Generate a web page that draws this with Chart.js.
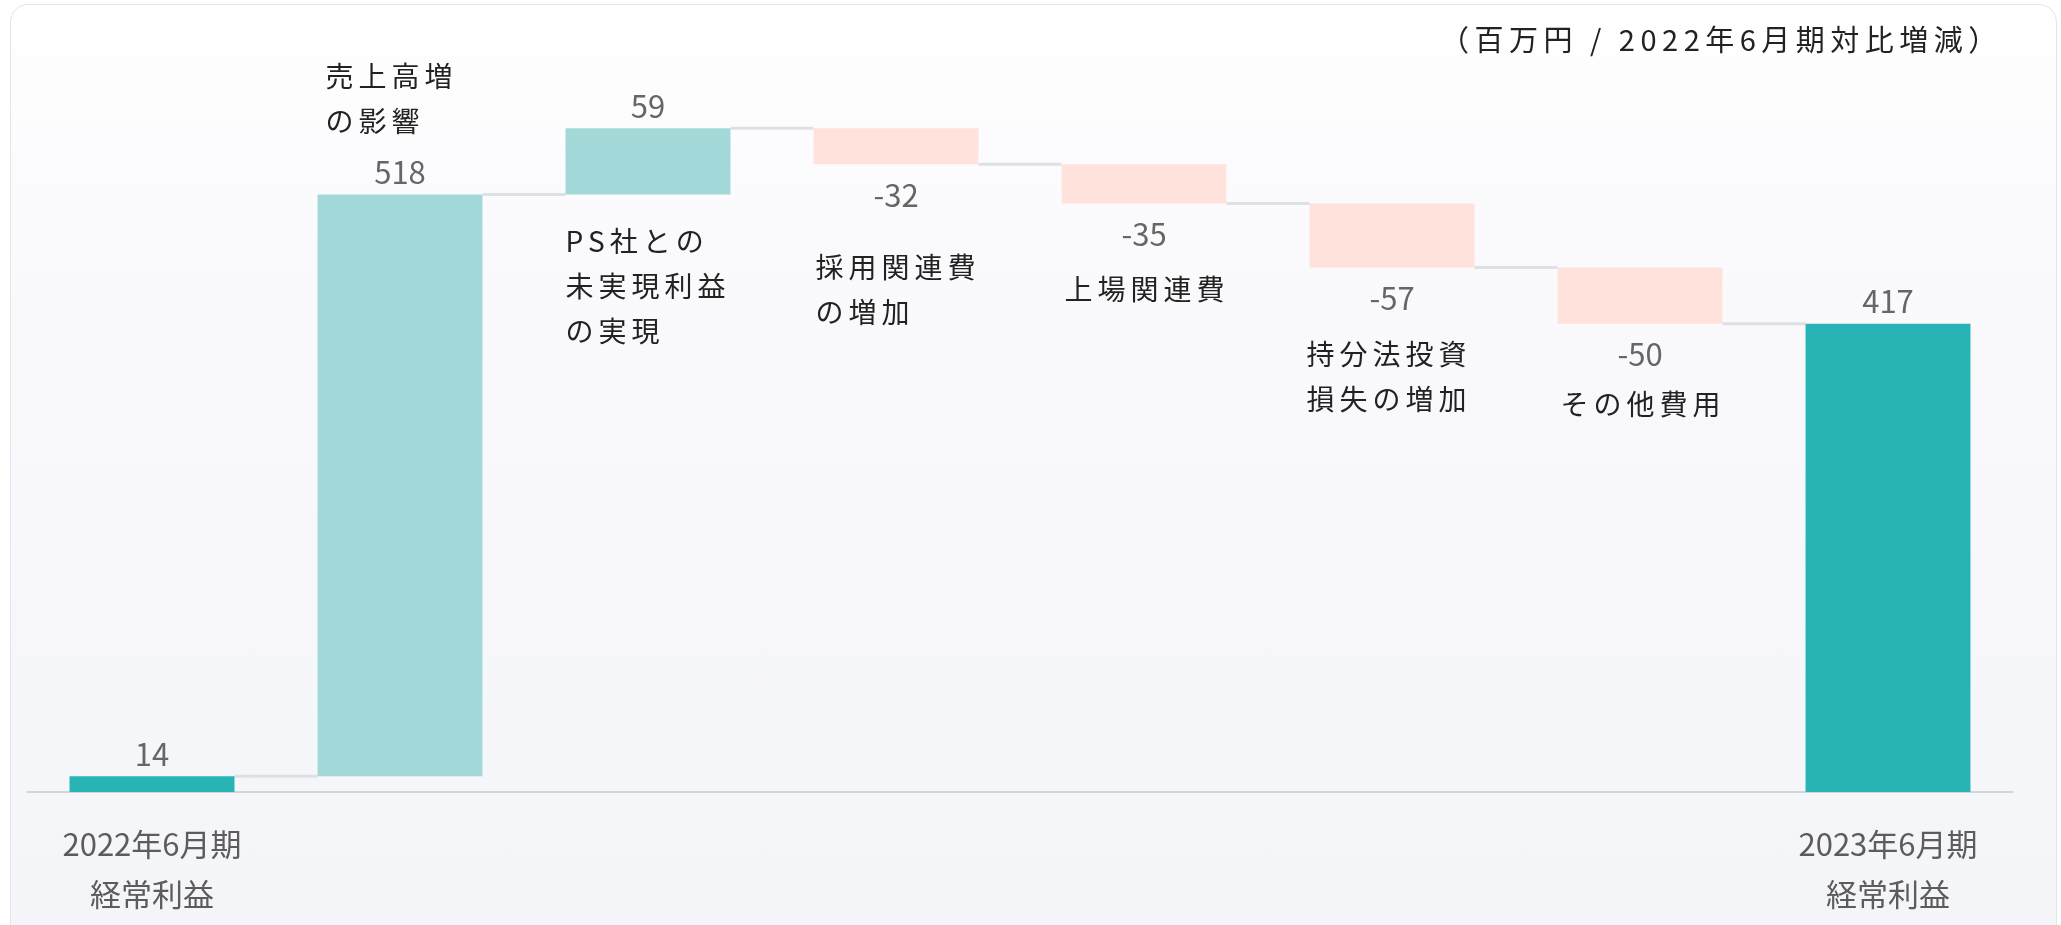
<!DOCTYPE html>
<html lang="ja">
<head>
<meta charset="utf-8">
<title>経常利益 増減</title>
<script src="https://cdn.jsdelivr.net/npm/chart.js@4.4.1/dist/chart.umd.min.js"></script>
<style>
  html, body { margin: 0; padding: 0; background: #fff; }
  body { width: 2061px; height: 925px; overflow: hidden; position: relative; }
  .card {
    position: absolute; left: 10px; top: 4px; width: 2047px; height: 940px;
    box-sizing: border-box;
    border: 1.5px solid #e3e5e9; border-radius: 18px;
    background: linear-gradient(to bottom, #ffffff 0%, #fafafd 25%, #f4f5f9 100%);
  }
  #chart { position: absolute; left: 0; top: 0; }
</style>
</head>
<body>
<div class="card"></div>
<canvas id="chart" width="2061" height="925"></canvas>
<script>
// ==========================================
// Data
// ==========================================
const categories = ['2022年6月期経常利益', '売上高増の影響', 'PS社との未実現利益の実現', '採用関連費の増加',
  '上場関連費', '持分法投資損失の増加', 'その他費用', '2023年6月期経常利益'];
const changes = [14, 518, 59, -32, -35, -57, -50, 417];
const barKinds = ['total', 'up', 'up', 'down', 'down', 'down', 'down', 'total'];
const axisLabels = [['2022年6月期', '経常利益'], '', '', '', '', '', '', ['2023年6月期', '経常利益']];
const innerLabels = [[], ['売上高増', 'の影響'], ['PS社との', '未実現利益', 'の実現'], ['採用関連費', 'の増加'],
  ['上場関連費'], ['持分法投資', '損失の増加'], ['その他費用'], []];
const unitNote = '（百万円 / 2022年6月期対比増減）';

// ==========================================
// Styles
// ==========================================
const FONT = "'Noto Sans CJK JP', 'Noto Sans', sans-serif";
const kindColors = { total: '#28b4b4', up: '#a3d8d8', down: '#ffe2dc' };
// where each in-chart label sits relative to its bar (px)
const innerLabelPos = [null, { side: 'top', dy: -118, dx: 8 }, { side: 'bottom', dy: 47, dx: 0 },
  { side: 'bottom', dy: 103, dx: 2 }, { side: 'bottom', dy: 86, dx: 3 }, { side: 'bottom', dy: 87, dx: -3 },
  { side: 'bottom', dy: 81, dx: 3 }, null];

// floating ranges for the waterfall
let running = 0;
const ranges = changes.map((v, i) => {
  if (barKinds[i] === 'total') { running = v; return [0, v]; }
  const r = [running, running + v];
  running += v;
  return r;
});

// ==========================================
// Decorations plugin
// ==========================================
const waterfallDecor = {
  id: 'waterfallDecor',
  beforeDatasetsDraw(chart) {
    const { ctx } = chart;
    const yScale = chart.scales.y;
    const bars = chart.getDatasetMeta(0).data;
    ctx.save();
    ctx.strokeStyle = '#dfe0e3';
    ctx.lineWidth = 3;
    for (let i = 0; i < bars.length - 1; i++) {
      const y = yScale.getPixelForValue(ranges[i][1]);
      ctx.beginPath();
      ctx.moveTo(bars[i].x + bars[i].width / 2, y);
      ctx.lineTo(bars[i + 1].x - bars[i + 1].width / 2, y);
      ctx.stroke();
    }
    ctx.restore();
  },
  afterDatasetsDraw(chart) {
    const { ctx } = chart;
    const bars = chart.getDatasetMeta(0).data;
    ctx.save();
    ctx.textBaseline = 'middle';

    // value labels
    ctx.font = `31px ${FONT}`;
    ctx.fillStyle = '#666';
    ctx.textAlign = 'center';
    bars.forEach((b, i) => {
      const top = Math.min(b.y, b.base);
      const bottom = Math.max(b.y, b.base);
      const y = changes[i] < 0 ? bottom + 31 : top - 22;
      ctx.fillText(String(changes[i]), b.x, y);
    });

    // category labels inside the plot
    ctx.font = `28px ${FONT}`;
    ctx.fillStyle = '#222';
    ctx.textAlign = 'left';
    ctx.letterSpacing = '5px';
    bars.forEach((b, i) => {
      const pos = innerLabelPos[i];
      if (!pos) return;
      const top = Math.min(b.y, b.base);
      const bottom = Math.max(b.y, b.base);
      const x = b.x - b.width / 2 + pos.dx;
      const y0 = (pos.side === 'top' ? top : bottom) + pos.dy;
      innerLabels[i].forEach((line, k) => ctx.fillText(line, x, y0 + k * 45));
    });

    // unit note
    ctx.font = `29px ${FONT}`;
    ctx.letterSpacing = '5.5px';
    ctx.fillText(unitNote, 1440, 40);
    ctx.restore();
  }
};

// ==========================================
// Chart
// ==========================================
new Chart(document.getElementById('chart'), {
  type: 'bar',
  data: {
    labels: categories,
    datasets: [{
      data: ranges,
      backgroundColor: barKinds.map(k => kindColors[k]),
      borderWidth: 0,
      barPercentage: 0.665,
      categoryPercentage: 1
    }]
  },
  options: {
    responsive: false,
    animation: false,
    layout: { padding: { left: 28, right: 49, top: 62, bottom: 0 } },
    plugins: { legend: { display: false }, tooltip: { enabled: false } },
    scales: {
      x: {
        grid: { display: false },
        border: { display: true, color: '#d3d5d9', width: 2 },
        ticks: {
          autoSkip: false,
          maxRotation: 0,
          padding: 19,
          color: '#5c5c5c',
          font: { family: FONT, size: 31, lineHeight: '50px' },
          callback: (v, i) => axisLabels[i]
        },
        afterFit: (scale) => { scale.height = 133; }
      },
      y: { display: false, min: 0, max: 650 }
    }
  },
  plugins: [waterfallDecor]
});
</script>
</body>
</html>
